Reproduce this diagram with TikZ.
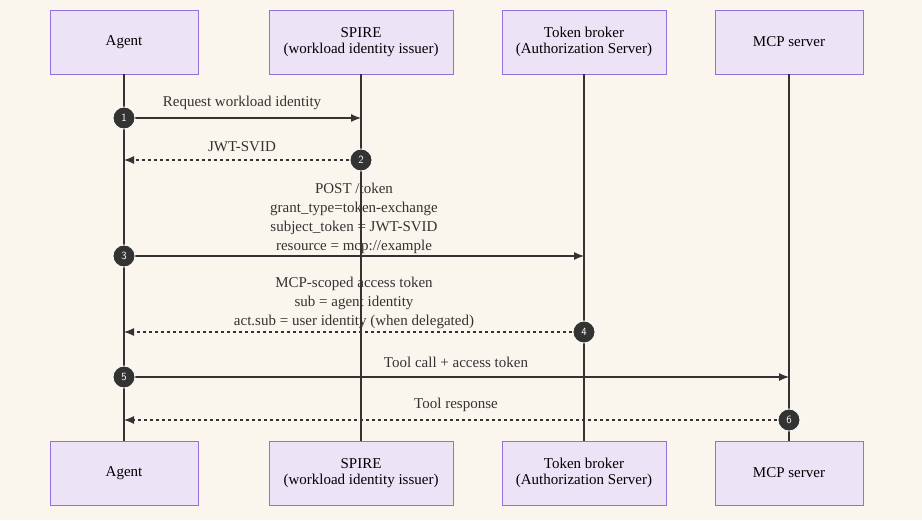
\documentclass[tikz,border=0pt]{standalone}
\usepackage{fontspec}
\setmainfont{Liberation Serif}
\usetikzlibrary{positioning,arrows.meta}
\definecolor{bg}{HTML}{FAF6EE}
\definecolor{actfill}{HTML}{ECE3F6}
\definecolor{actline}{HTML}{9370DB}
\definecolor{dark}{HTML}{333333}
\tikzset{
    actor/.style={rectangle, minimum height=64pt, text centered, align=center, draw=actline, fill=actfill, font=\fontsize{15}{16}\selectfont},
    life/.style={dark, line width=1.3pt},
    msg/.style={dark, line width=1.2pt, -{Latex[length=10pt,width=8pt]}},
    reply/.style={msg, dash pattern=on 3pt off 3pt},
    seqnum/.style={circle, fill=dark, draw=white, line width=0.8pt, inner sep=0pt, minimum size=22pt, text=white, font=\sffamily\fontsize{11}{11}\selectfont},
    lbl/.style={align=center, font=\fontsize{15}{19}\selectfont, text=dark}
    }
\begin{document}
\begin{tikzpicture}[x=1pt,y=-1pt]
    \fill[bg] (0,0) rectangle (922,520);
    \useasboundingbox (0,0) rectangle (922,520);
    % actors, top and bottom
    \node[actor, minimum width=148pt] (agent) at (124,42) {Agent};
    \node[actor, minimum width=184pt] (spire) at (361,42) {SPIRE\\(workload identity issuer)};
    \node[actor, minimum width=164pt] (broker) at (584,42) {Token broker\\(Authorization Server)};
    \node[actor, minimum width=148pt] (mcp) at (789,42) {MCP server};
    \node[actor, minimum width=148pt] (agentB) at (124,473) {Agent};
    \node[actor, minimum width=184pt] (spireB) at (361,473) {SPIRE\\(workload identity issuer)};
    \node[actor, minimum width=164pt] (brokerB) at (584,473) {Token broker\\(Authorization Server)};
    \node[actor, minimum width=148pt] (mcpB) at (789,473) {MCP server};
    % lifelines
    \foreach \a in {agent,spire,broker,mcp}
        \draw[life] (\a.south) -- (\a B.north);
    % message end points
    \coordinate (a1) at (124,118); \coordinate (s1) at (361,118);
    \coordinate (a2) at (124,160); \coordinate (s2) at (361,160);
    \coordinate (a3) at (124,256); \coordinate (b3) at (584,256);
    \coordinate (a4) at (124,332); \coordinate (b4) at (584,332);
    \coordinate (a5) at (124,377); \coordinate (m5) at (789,377);
    \coordinate (a6) at (124,420); \coordinate (m6) at (789,420);
    % messages
    \draw[msg] (a1) -- (s1);
    \draw[reply] (s2) -- (a2);
    \draw[msg] (a3) -- (b3);
    \draw[reply] (b4) -- (a4);
    \draw[msg] (a5) -- (m5);
    \draw[reply] (m6) -- (a6);
    \node[lbl] (l1) at (242,103) {Request workload identity};
    \node[lbl] (l2) at (242,147) {JWT-SVID};
    \node[lbl] (l3) at (354,218) {POST /token\\grant\_type=token-exchange\\subject\_token = JWT-SVID\\resource = mcp://example};
    \node[lbl] (l4) at (354,303) {MCP-scoped access token\\sub = agent identity\\act.sub = user identity (when delegated)};
    \node[lbl] (l5) at (456,362) {Tool call + access token};
    \node[lbl] (l6) at (456,405) {Tool response};
    % step markers
    \node[seqnum] (n1) at (a1) {1};
    \node[seqnum] (n2) at (s2) {2};
    \node[seqnum] (n3) at (a3) {3};
    \node[seqnum] (n4) at (b4) {4};
    \node[seqnum] (n5) at (a5) {5};
    \node[seqnum] (n6) at (m6) {6};
\end{tikzpicture}
\end{document}
